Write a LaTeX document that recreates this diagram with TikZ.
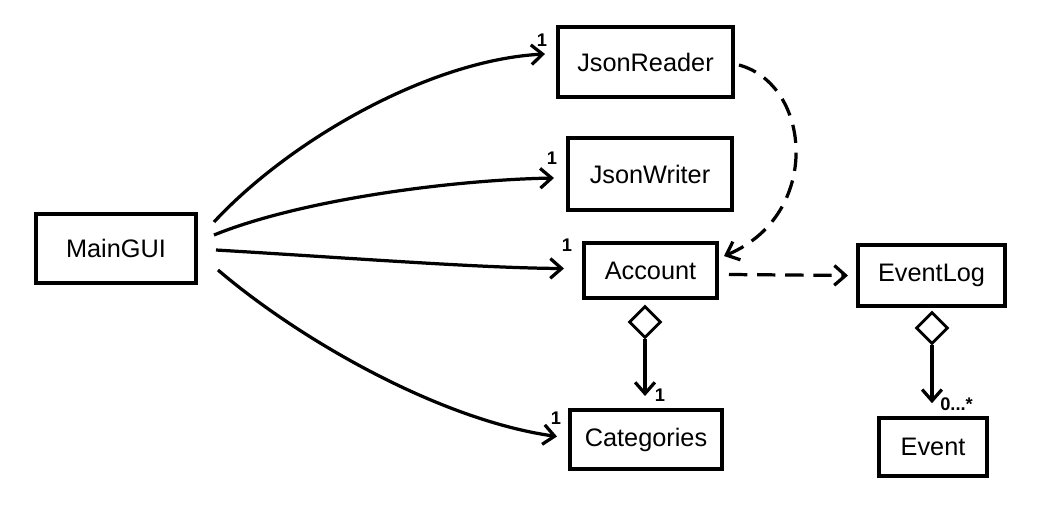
\documentclass[tikz,border=0pt]{standalone}
\usepackage{fontspec}
\setmainfont{Liberation Sans}
\usetikzlibrary{arrows.meta,shapes.geometric,calc}
\begin{document}
\begin{tikzpicture}[x=0.025cm,y=-0.025cm,
  cls/.style={draw,line width=2.8pt,inner sep=0pt,font=\fontsize{18}{21}\selectfont},
  assoc/.style={line width=2.3pt,-{Straight Barb[length=8pt,width=14pt,line width=2.3pt]}},
  depend/.style={assoc,dash pattern=on 13pt off 7pt},
  agg/.style={diamond,draw,line width=2pt,fill=white,minimum width=0.8cm,minimum height=0.8cm,inner sep=0pt},
  mult/.style={font=\bfseries\fontsize{13}{15}\selectfont,inner sep=0pt}]
\useasboundingbox (0,0) rectangle (1039,508);
\node[cls,minimum width=4cm,minimum height=1.725cm] (MainGUI) at (116,248.5) {MainGUI};
\node[cls,minimum width=4.375cm,minimum height=1.75cm] (JsonReader) at (645.5,62) {JsonReader};
\node[cls,minimum width=4.1cm,minimum height=1.8cm] (JsonWriter) at (650,174) {JsonWriter};
\node[cls,minimum width=3.325cm,minimum height=1.375cm] (Account) at (650.5,270.5) {Account};
\node[cls,minimum width=3.675cm,minimum height=1.525cm] (EventLog) at (931.5,275.5) {EventLog};
\node[cls,minimum width=3.8cm,minimum height=1.475cm] (Categories) at (646,439.5) {Categories};
\node[cls,minimum width=2.7cm,minimum height=1.45cm] (Event) at (933,447) {Event};
% associations from MainGUI
\draw[assoc] ($(MainGUI.east)+(16,-26.5)$) .. controls (290,140) and (430,60) .. ($(JsonReader.west)+(-11,-8)$);
\draw[assoc] ($(MainGUI.east)+(16,-13.5)$) .. controls (300,200) and (450,180) .. ($(JsonWriter.west)+(-12,4)$);
\draw[assoc] ($(MainGUI.east)+(18,1.5)$) .. controls (350,258) and (480,268) .. ($(Account.west)+(-18,-2)$);
\draw[assoc] ($(MainGUI.east)+(20,21.5)$) .. controls (300,340) and (440,420) .. ($(Categories.west)+(-11,-3)$);
\node[mult] (m1) at (542,40) {1};
\node[mult] (m2) at (552,158) {1};
\node[mult] (m3) at (567,245) {1};
\node[mult] (m4) at (556,418) {1};
% dependencies
\draw[depend] ($(JsonReader.east)+(4,3)$) .. controls (812,85) and (822,215) .. ($(Account.north east)+(5,15)$);
\draw[depend] ($(Account.east)+(10,4)$) -- ($(EventLog.west)+(-8,0)$);
% aggregations
\node[agg] (dA) at (645,322) {};
\draw[assoc,shorten >=0.3cm] (dA.south) -- (dA.south |- Categories.north);
\node[mult] (m5) at (660,395) {1};
\node[agg] (dE) at (932,328) {};
\draw[assoc,shorten >=0.32cm] (dE.south) -- (dE.south |- Event.north);
\node[mult,anchor=west] (m6) at (940,404) {0...*};
\end{tikzpicture}
\end{document}
